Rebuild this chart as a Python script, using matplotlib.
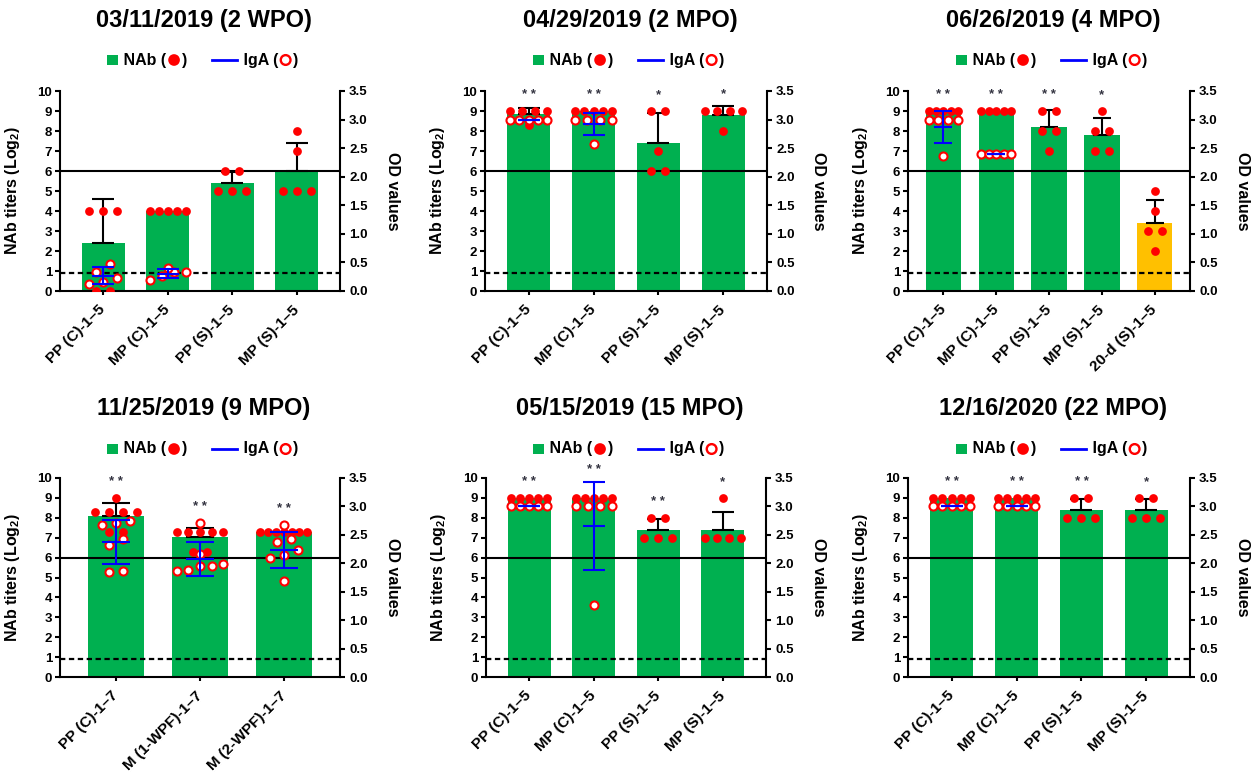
import numpy as np
import matplotlib
matplotlib.use("Agg")
import matplotlib.pyplot as plt
from matplotlib.offsetbox import TextArea, DrawingArea, HPacker, AnnotationBbox
from matplotlib.patches import Rectangle, Circle
from matplotlib.lines import Line2D

# ---------------- data ----------------
titles = ["03/11/2019 (2 WPO)", "04/29/2019 (2 MPO)", "06/26/2019 (4 MPO)",
          "11/25/2019 (9 MPO)", "05/15/2019 (15 MPO)", "12/16/2020 (22 MPO)"]

cats_p1 = ["PP (C)-1–5", "MP (C)-1–5", "PP (S)-1–5", "MP (S)-1–5"]
cats_p2 = ["PP (C)-1–5", "MP (C)-1–5", "PP (S)-1–5", "MP (S)-1–5"]
cats_p3 = ["PP (C)-1–5", "MP (C)-1–5", "PP (S)-1–5", "MP (S)-1–5", "20-d (S)-1–5"]
cats_p4 = ["PP (C)-1–7", "M (1-WPF)-1–7", "M (2-WPF)-1–7"]
cats_p5 = ["PP (C)-1–5", "MP (C)-1–5", "PP (S)-1–5", "MP (S)-1–5"]
cats_p6 = ["PP (C)-1–5", "MP (C)-1–5", "PP (S)-1–5", "MP (S)-1–5"]

# NAb titers (log2), one list per group
nab_p1 = [[4, 4, 4, 0, 0], [4, 4, 4, 4, 4], [6, 6, 5, 5, 5], [8, 7, 5, 5, 5]]
nab_p2 = [[9, 9, 9, 9, 8.3], [9, 9, 9, 9, 9], [9, 9, 7, 6, 6], [9, 9, 9, 9, 8]]
nab_p3 = [[9, 9, 9, 9, 9], [9, 9, 9, 9, 9], [9, 9, 8, 8, 7], [9, 8, 8, 7, 7], [5, 4, 3, 3, 2]]
nab_p4 = [[9, 8.3, 8.3, 8.3, 8.3, 7.3, 7.3],
          [7.3, 7.3, 7.3, 7.3, 7.3, 6.3, 6.3],
          [7.3, 7.3, 7.3, 7.3, 7.3, 7.3, 7.3]]
nab_p5 = [[9, 9, 9, 9, 9], [9, 9, 9, 9, 9], [8, 8, 7, 7, 7], [9, 7, 7, 7, 7]]
nab_p6 = [[9, 9, 9, 9, 9], [9, 9, 9, 9, 9], [9, 9, 8, 8, 8], [9, 9, 8, 8, 8]]

# IgA OD values (right axis), None where not measured
iga_p1 = [[0.48, 0.34, 0.23, 0.12, 0.15], [0.33, 0.20, 0.33, 0.40, 0.26], None, None]
iga_p2 = [[3.0, 3.0, 3.0, 3.0, 3.0], [3.0, 3.0, 3.0, 3.0, 2.57], None, None]
iga_p3 = [[3.0, 3.0, 3.0, 3.0, 2.37], [2.4, 2.4, 2.4, 2.4, 2.4], None, None, None]
iga_p4 = [[2.71, 2.74, 2.68, 2.42, 2.33, 1.84, 1.86],
          [2.71, 2.16, 1.99, 1.95, 1.96, 1.89, 1.86],
          [2.68, 2.43, 2.37, 2.24, 2.14, 2.09, 1.69]]
iga_p5 = [[3.0, 3.0, 3.0, 3.0, 3.0], [3.0, 3.0, 3.0, 3.0, 1.27], None, None]
iga_p6 = [[3.0, 3.0, 3.0, 3.0, 3.0], [3.0, 3.0, 3.0, 3.0, 3.0], None, None]

stars_p1 = ["", "", "", ""]
stars_p2 = ["**", "**", "*", "*"]
stars_p3 = ["**", "**", "**", "*", ""]
stars_p4 = ["**", "**", "**"]
stars_p5 = ["**", "**", "**", "*"]
stars_p6 = ["**", "**", "**", "*"]

control_groups = ["20-d (S)-1–5"]
nab_cutoff = 6.0      # log2
od_cutoff = 0.315     # OD

panels = [(titles[0], cats_p1, nab_p1, iga_p1, stars_p1),
          (titles[1], cats_p2, nab_p2, iga_p2, stars_p2),
          (titles[2], cats_p3, nab_p3, iga_p3, stars_p3),
          (titles[3], cats_p4, nab_p4, iga_p4, stars_p4),
          (titles[4], cats_p5, nab_p5, iga_p5, stars_p5),
          (titles[5], cats_p6, nab_p6, iga_p6, stars_p6)]

# ---------------- style ----------------
plt.rcParams.update({
    "font.family": ["Liberation Sans", "DejaVu Sans"],
    "font.weight": "bold",
    "mathtext.fontset": "custom",
    "mathtext.rm": "Liberation Sans:bold",
    "mathtext.default": "rm",
    "axes.linewidth": 1.5,
})
GREEN = "#00B050"
ORANGE = "#FFC000"
RED = "#FF0000"
BLUE = "#0000FF"
STAR = "#333340"

W, H = 1255, 783
fig = plt.figure(figsize=(W / 100, H / 100), dpi=100)

rects = [(60, 91, 340, 291), (485, 91, 767, 291), (908, 91, 1190, 291),
         (60, 478, 340, 677), (486, 478, 766, 677), (908, 478, 1190, 677)]
title_y = [21, 21, 21, 408.5, 408.5, 408.5]
legend_y = [60, 60, 60, 449, 449, 449]
BW = 0.67


def layout_offsets(vals, ppu_x, ppu_y, coll=10.0, sp=14.0, maxspan=0.56):
    vals = np.asarray(vals, float)
    order = np.argsort(vals, kind="stable")
    off = np.zeros(len(vals))
    clusters = []
    for i in order:
        if clusters and (vals[i] - vals[clusters[-1][0]]) * ppu_y < coll:
            clusters[-1].append(i)
        else:
            clusters.append([i])
    for c in clusters:
        k = len(c)
        if k > 1:
            s = min(sp / ppu_x, maxspan / (k - 1))
            for j, i in enumerate(c):
                off[i] = (j - (k - 1) / 2) * s
    return off


def make_legend():
    tp = dict(fontsize=11.5, fontweight="bold", color="black")
    sq = DrawingArea(7.5, 7.5, 0, 0)
    sq.add_artist(Rectangle((0, 0), 7.5, 7.5, facecolor=GREEN, edgecolor="none"))
    dot = DrawingArea(9, 9, 0, 0)
    dot.add_artist(Circle((4.5, 4.5), 4.2, facecolor=RED, edgecolor="none"))
    ln = DrawingArea(18, 8, 0, 0)
    ln.add_artist(Line2D([0, 18], [4, 4], color=BLUE, lw=2))
    oc = DrawingArea(9, 9, 0, 0)
    oc.add_artist(Circle((4.5, 4.5), 3.5, facecolor="white", edgecolor=RED, lw=1.7))
    kids = [sq, TextArea(" NAb (", textprops=tp), dot, TextArea(")", textprops=tp),
            TextArea("     ", textprops=tp), ln, TextArea(" IgA (", textprops=tp),
            oc, TextArea(")", textprops=tp)]
    return HPacker(children=kids, pad=0, sep=1, align="center")


for p, (title, cats, nab, iga, stars) in enumerate(panels):
    l, t, r, b = rects[p]
    ax = fig.add_axes([l / W, 1 - b / H, (r - l) / W, (b - t) / H])
    ax2 = ax.twinx()
    n = len(cats)
    x = np.arange(n)
    ax.set_xlim(-BW, n - 1 + BW)
    ax.set_ylim(0, 10)
    ax2.set_ylim(0, 3.5)
    ppu_x = (r - l) / (n - 1 + 2 * BW)
    ppu_y = (b - t) / 10.0
    ppu_y2 = (b - t) / 3.5
    cap = 0.25 * BW * ppu_x * 0.72

    means = [np.mean(v) for v in nab]
    sds = [np.std(v, ddof=1) for v in nab]
    colors = [ORANGE if c in control_groups else GREEN for c in cats]
    ax.bar(x, means, width=BW, color=colors, linewidth=0, zorder=1)
    ax.axhline(nab_cutoff, color="black", lw=1.5, zorder=2)
    ax2.axhline(od_cutoff, color="black", lw=1.6, ls=(0, (2.4, 1.6)), zorder=1)

    for i in range(n):
        tops = [max(nab[i]) + 4 / ppu_y]
        if sds[i] > 0:
            ax.errorbar(i, means[i], yerr=[[0], [sds[i]]], fmt="none", ecolor="black",
                        elinewidth=1.5, capsize=cap, capthick=1.5, zorder=3)
            tops.append(means[i] + sds[i])
        off = layout_offsets(nab[i], ppu_x, ppu_y)
        ax.plot(i + off, nab[i], "o", ls="none", ms=6.3, color=RED, mew=0, zorder=4)
        if iga[i] is not None:
            off2 = layout_offsets(iga[i], ppu_x, ppu_y2)
            ax2.plot(i + off2, iga[i], "o", ls="none", ms=5.8, mfc="white", mec=RED,
                     mew=1.5, zorder=3)
            m2 = np.mean(iga[i])
            s2 = np.std(iga[i], ddof=1)
            ax2.errorbar(i, m2, yerr=s2, fmt="_", ms=2 * cap, mew=1.5, color=BLUE,
                         elinewidth=1.5, capsize=cap, capthick=1.5, zorder=4)
            tops.append(max(iga[i]) * 10 / 3.5 + 4 / ppu_y)
            tops.append((m2 + s2) * 10 / 3.5)
        if stars[i]:
            ax.annotate(" ".join(stars[i]), (i, max(tops)), xytext=(0, 12),
                        textcoords="offset pixels", ha="center", va="center",
                        fontsize=9.5, color=STAR, annotation_clip=False, zorder=5)

    # axes styling
    for s in ["top", "right"]:
        ax.spines[s].set_visible(False)
    for s in ["top", "left", "bottom"]:
        ax2.spines[s].set_visible(False)
    ax2.spines["right"].set_linewidth(1.5)
    ax.set_yticks(range(0, 11))
    ax2.set_yticks(np.arange(0, 3.51, 0.5))
    ax2.set_yticklabels([f"{v:.1f}" for v in np.arange(0, 3.51, 0.5)])
    ax.set_xticks(x)
    ax.set_xticklabels(cats)
    for lab in ax.get_xticklabels():
        lab.set_rotation(45)
        lab.set_ha("right")
        lab.set_va("center")
        lab.set_rotation_mode("anchor")
    ax.tick_params(axis="y", direction="out", length=3.5, width=1.5, labelsize=9.5, pad=2)
    ax.tick_params(axis="x", direction="out", length=3, width=1.5, labelsize=11, pad=9)
    ax2.tick_params(axis="y", direction="out", length=3.5, width=1.5, labelsize=9.5, pad=3)

    ax.set_ylabel("NAb titers (Log$_2$)", fontsize=11.5, fontweight="bold")
    ax.yaxis.set_label_coords(-38 / (r - l), 0.5)
    ax2.set_ylabel("OD values", fontsize=11.5, fontweight="bold", rotation=270, va="center")
    ax2.yaxis.set_label_coords(1 + 52 / (r - l), 0.5)

    cx = (l + r) / 2 + 4
    fig.text(cx / W, 1 - title_y[p] / H, title, ha="center", va="center",
             fontsize=17, fontweight="bold")
    ab = AnnotationBbox(make_legend(), (cx - 1, H - legend_y[p]), xycoords="figure pixels",
                        frameon=False, box_alignment=(0.5, 0.5), pad=0)
    fig.add_artist(ab)

fig.savefig("out.png", dpi=100)
